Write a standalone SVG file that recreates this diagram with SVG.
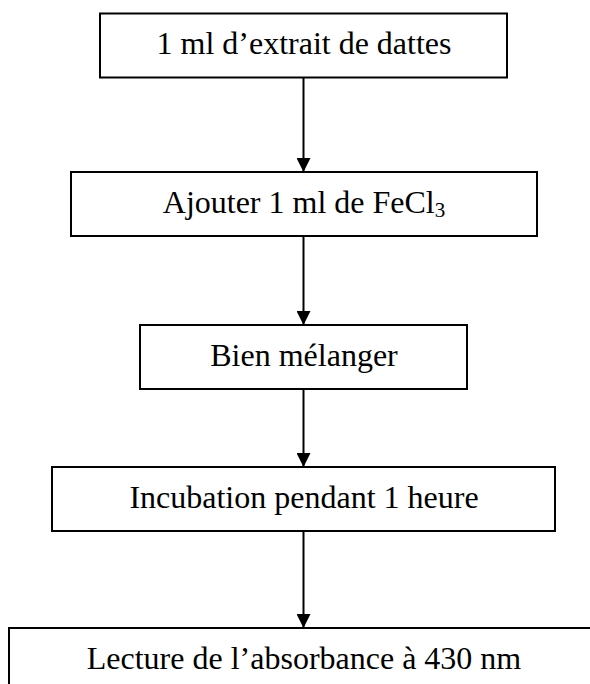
<svg xmlns="http://www.w3.org/2000/svg" width="590" height="684" viewBox="0 0 590 684">
  <style>
    .box { fill: #ffffff; stroke: #000000; stroke-width: 2; }
    .lbl { font-family: "Liberation Serif", "Times New Roman", serif; font-size: 32px; fill: #000000; text-anchor: middle; }
    .sub { font-size: 21px; }
    .conn { stroke: #000000; stroke-width: 2; fill: none; }
  </style>
  <defs>
    <marker id="arrow" markerUnits="userSpaceOnUse" markerWidth="14" markerHeight="14" viewBox="0 0 14 14" refX="14" refY="7" orient="auto">
      <path d="M0,0 L14,7 L0,14 Z" fill="#000000"/>
    </marker>
  </defs>
  <rect width="590" height="684" fill="#ffffff"/>
  <g id="connectors">
    <line class="conn" x1="303.5" y1="77.5" x2="303.5" y2="172" marker-end="url(#arrow)"/>
    <line class="conn" x1="303.5" y1="236" x2="303.5" y2="325" marker-end="url(#arrow)"/>
    <line class="conn" x1="303.5" y1="389" x2="303.5" y2="467" marker-end="url(#arrow)"/>
    <line class="conn" x1="303.5" y1="531" x2="303.5" y2="628" marker-end="url(#arrow)"/>
  </g>
  <g id="step1">
    <rect class="box" x="100" y="13.5" width="407" height="64"/>
    <text class="lbl" x="304" y="54">1 ml d’extrait de dattes</text>
  </g>
  <g id="step2">
    <rect class="box" x="71" y="172" width="466" height="64"/>
    <text class="lbl" x="304" y="213">Ajouter 1 ml de FeCl<tspan class="sub" dy="4">3</tspan></text>
  </g>
  <g id="step3">
    <rect class="box" x="140" y="325" width="327" height="64"/>
    <text class="lbl" x="304" y="366">Bien mélanger</text>
  </g>
  <g id="step4">
    <rect class="box" x="52" y="467" width="503" height="64"/>
    <text class="lbl" x="304" y="508">Incubation pendant 1 heure</text>
  </g>
  <g id="step5">
    <rect class="box" x="9" y="628" width="600" height="64"/>
    <text class="lbl" x="304" y="669">Lecture de l’absorbance à 430 nm</text>
  </g>
</svg>
